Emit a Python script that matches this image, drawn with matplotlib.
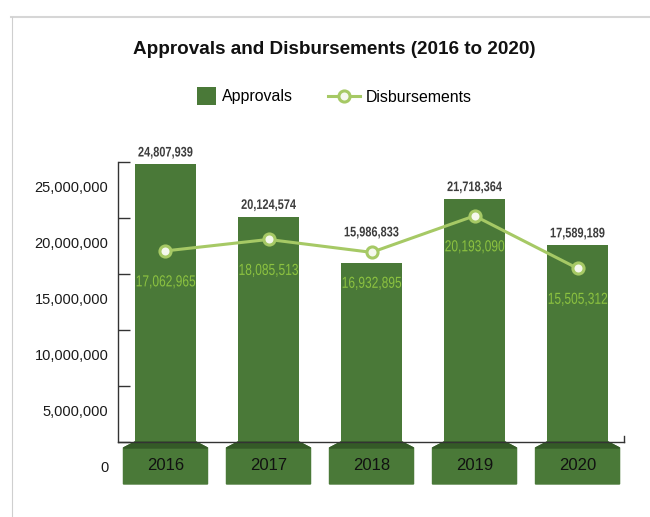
import matplotlib
matplotlib.use("Agg")
import matplotlib.pyplot as plt
from matplotlib.lines import Line2D
from matplotlib.patches import Polygon, Rectangle
from matplotlib.legend_handler import HandlerPatch
from matplotlib.patheffects import AbstractPathEffect
from matplotlib.transforms import ScaledTranslation, Affine2D

years = ["2016", "2017", "2018", "2019", "2020"]
approvals = [24807939, 20124574, 15986833, 21718364, 17589189]
disbursements = [17062965, 18085513, 16932895, 20193090, 15505312]
y_ticks = [0, 5000000, 10000000, 15000000, 20000000, 25000000]

BAR = "#4a7938"
BAR_DARK = "#345a27"
LINE = "#a6c965"
LINE_TEXT = "#8cc240"
FACE = "#f5f8ee"

plt.rcParams["font.family"] = ["Liberation Sans", "DejaVu Sans"]


class Condense(AbstractPathEffect):
    """Squeeze glyphs horizontally about their centre (narrow-face look)."""

    def __init__(self, sx):
        super().__init__()
        self.sx = sx

    def draw_path(self, renderer, gc, tpath, affine, rgbFace=None):
        ext = tpath.get_extents()
        cx = 0.5 * (ext.x0 + ext.x1)
        squeeze = Affine2D().translate(-cx, 0).scale(self.sx, 1).translate(cx, 0)
        renderer.draw_path(gc, tpath, squeeze + affine, rgbFace)


fig = plt.figure(figsize=(6.5, 5.17), dpi=100)
W, H = 650, 517
ax = fig.add_axes([118 / W, (H - 442) / H, (624 - 118) / W, (442 - 162) / H])

x = list(range(len(years)))
ax.bar(x, approvals, width=0.592, color=BAR, zorder=2)
ax.plot(x, disbursements, color=LINE, lw=2.2, marker="o", ms=8,
        mfc=FACE, mec=LINE, mew=2.2, zorder=3)

ax.set_xlim(-0.461, 4.451)
ax.set_ylim(0, 25000000)

# approval values sit above the bar, or above the line marker when it is higher
for i, (a, d) in enumerate(zip(approvals, disbursements)):
    anchor, lift = (a, 8.4) if a >= d else (d, 14.4)
    ax.annotate(f"{a:,}", (i, anchor), xytext=(0, lift),
                textcoords="offset points", ha="center", va="center",
                fontsize=10, fontweight="bold", color="#3d3d3d",
                path_effects=[Condense(0.79)])
for i, v in enumerate(disbursements):
    ax.annotate(f"{v:,}", (i, v), xytext=(0, -22.3), textcoords="offset points",
                ha="center", va="center", fontsize=11.5, color=LINE_TEXT,
                zorder=4, path_effects=[Condense(0.75)])

# year tabs under the bars
px = 25000000 / 280.0
bw, tw = 0.592 / 2, 0.816 / 2
for i, yr in enumerate(years):
    y0, y1, y2 = 0, -6 * px, -42 * px
    tab = Polygon([(i - bw, y0), (i + bw, y0), (i + tw, y1), (i + tw, y2),
                   (i - tw, y2), (i - tw, y1)], closed=True, color=BAR,
                  clip_on=False, zorder=2)
    band = Polygon([(i - bw, y0), (i + bw, y0), (i + tw, y1), (i - tw, y1)],
                   closed=True, color=BAR_DARK, clip_on=False, zorder=2)
    ax.add_patch(tab)
    ax.add_patch(band)
    ax.text(i, (y1 + y2) / 2, yr, ha="center", va="center", fontsize=12,
            color="#111111", zorder=3)

# axes styling
for s in ("top", "right"):
    ax.spines[s].set_visible(False)
for s in ("left", "bottom"):
    ax.spines[s].set_color("#333333")
    ax.spines[s].set_linewidth(1)
ax.plot([1, 1], [0, 6 / 280], transform=ax.transAxes, color="#333333",
        lw=1, clip_on=False)
ax.set_xticks([])
ax.set_yticks(y_ticks)
ax.set_yticklabels([f"{t:,}" for t in y_ticks])
ax.tick_params(axis="y", direction="in", length=8.6, width=1, color="#333333",
               pad=7, labelsize=10.5, labelcolor="#1a1a1a")
shift = ScaledTranslation(0, -24 / 100, fig.dpi_scale_trans)
for lbl in ax.yaxis.get_majorticklabels():
    lbl.set_transform(lbl.get_transform() + shift)

fig.text(334 / W, 1 - 49 / H, "Approvals and Disbursements (2016 to 2020)",
         ha="center", va="center", fontsize=13.6, fontweight="bold",
         color="#111111")


def square_patch(legend, orig_handle, xdescent, ydescent, width, height,
                 fontsize):
    s = 13.5
    return Rectangle((width - xdescent - s, height / 2 - ydescent - s / 2),
                     s, s)


handles = [
    Rectangle((0, 0), 1, 1, facecolor=BAR, edgecolor="none"),
    Line2D([], [], color=LINE, lw=2.2, marker="o", ms=8, mfc=FACE,
           mec=LINE, mew=2.2),
]
fig.legend(handles, ["Approvals", "Disbursements"], loc="center",
           bbox_to_anchor=(328 / W, 1 - 97 / H), ncol=2, frameon=False,
           fontsize=11.4, handlelength=2.0, handletextpad=0.38,
           columnspacing=2.2,
           handler_map={Rectangle: HandlerPatch(patch_func=square_patch)})

# outer frame lines
fig.add_artist(Line2D([11 / W, 1], [1 - 16.5 / H, 1 - 16.5 / H],
                      color="#d6d6d6", lw=1.5))
fig.add_artist(Line2D([11.5 / W, 11.5 / W], [0, 1 - 16.5 / H],
                      color="#cfcfcf", lw=0.8))

fig.savefig("out.png", dpi=100)
